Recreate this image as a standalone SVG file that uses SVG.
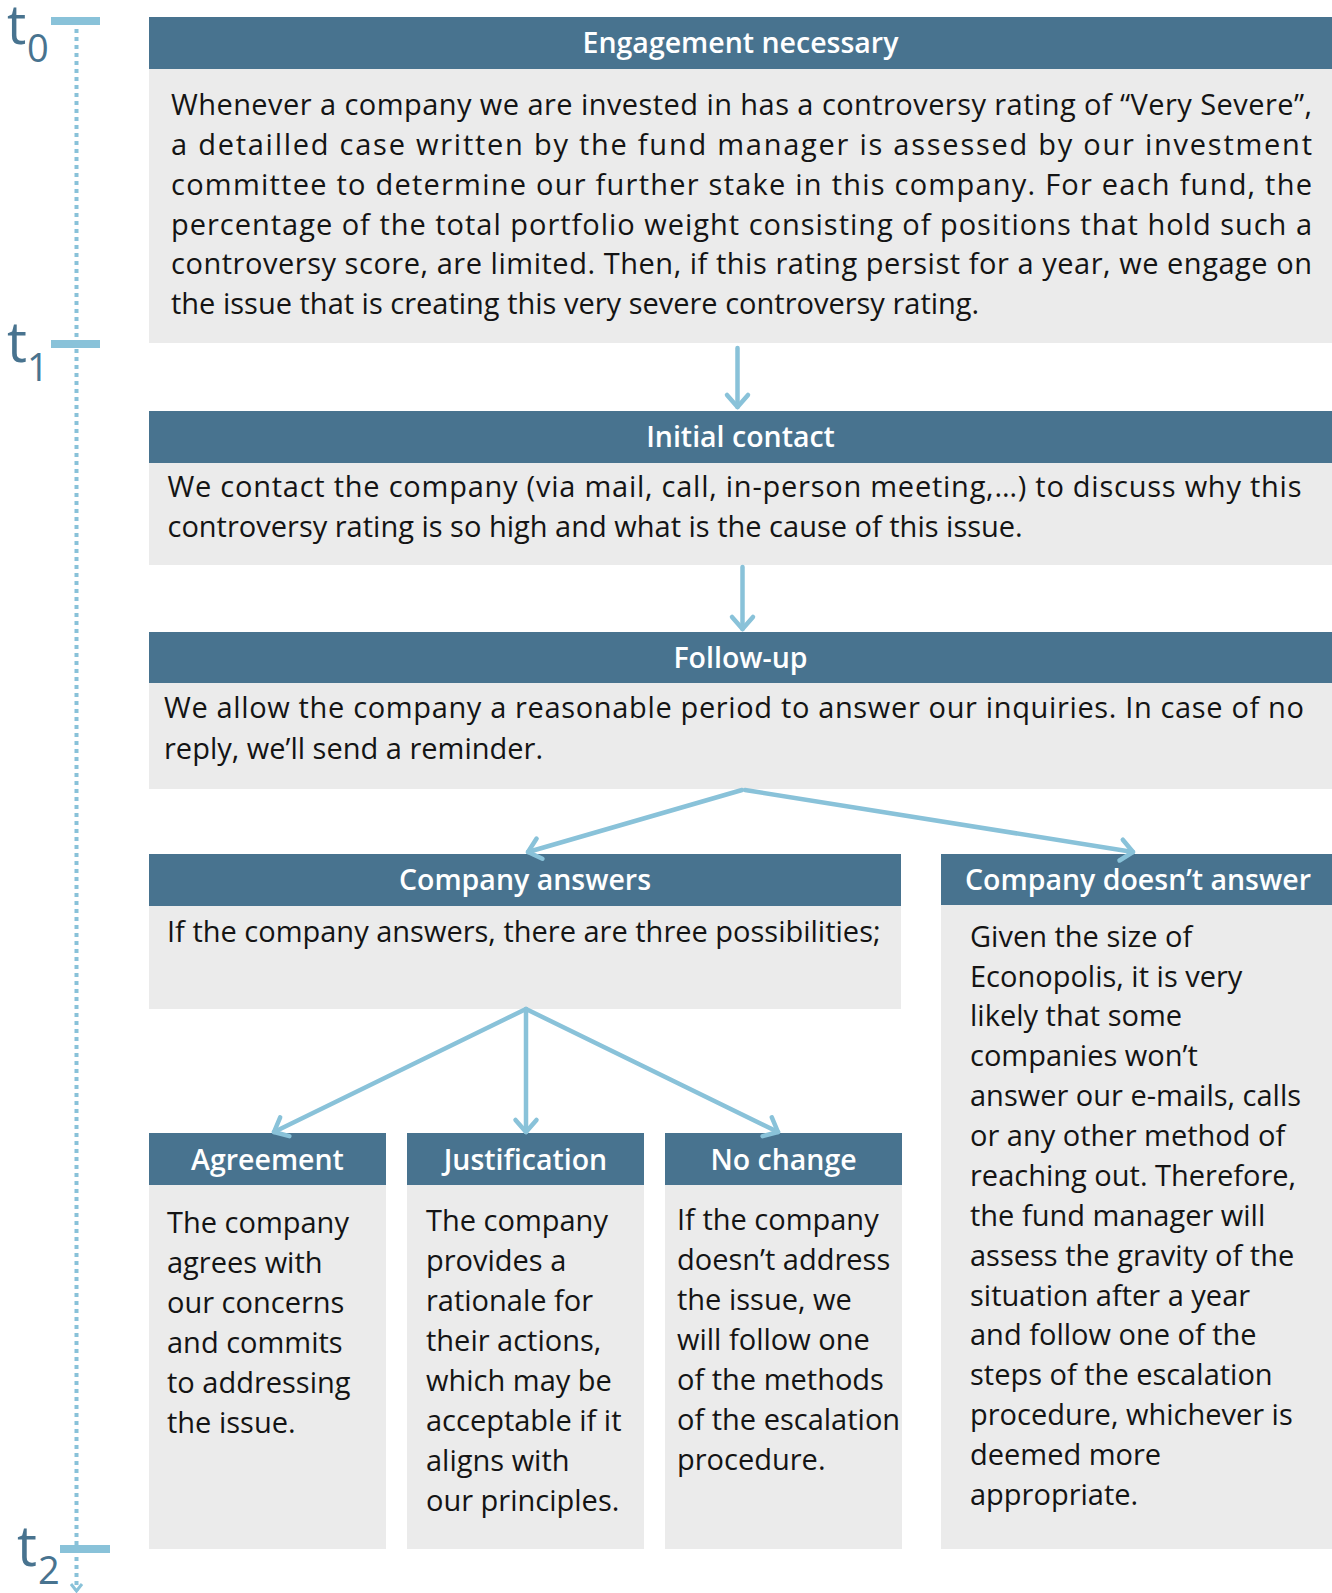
<svg xmlns="http://www.w3.org/2000/svg" width="1332" height="1593" viewBox="0 0 1332 1593">
<defs>
<style>
.hdr{fill:#48738F}
.body{fill:#EBEBEB}
.ht{font-family:"Open Sans","Liberation Sans",sans-serif;font-weight:600;font-size:28.5px;fill:#FFFFFF;text-anchor:middle}
.bt{font-family:"Open Sans","Liberation Sans",sans-serif;font-size:29px;fill:#141414}
.conn{fill:none;stroke:#89C2D9;stroke-width:4.5;stroke-linecap:round;stroke-linejoin:round}
.tick{fill:#89C2D9}
.tl{font-family:"Open Sans","Liberation Sans",sans-serif;fill:#48738F}
</style>
<marker id="arr" markerUnits="userSpaceOnUse" markerWidth="30" markerHeight="30" refX="0" refY="0" orient="auto" viewBox="-15 -15 30 30" overflow="visible">
<path d="M-12,-10.5 L0,0 L-12,10.5" fill="none" stroke="#89C2D9" stroke-width="4.5" stroke-linecap="round" stroke-linejoin="round"/>
</marker>
</defs>
<rect width="1332" height="1593" fill="#FFFFFF"/>

<g id="timeline">
<line x1="76.5" y1="21" x2="76.5" y2="1591" stroke="#89C2D9" stroke-width="4" stroke-dasharray="4 4"/>
<path d="M71,1584 L76.5,1591 L82,1584" fill="none" stroke="#89C2D9" stroke-width="3"/>
<rect class="tick" x="51" y="17" width="49" height="8"/>
<rect class="tick" x="51" y="340" width="49" height="8"/>
<rect class="tick" x="60" y="1545" width="50" height="8"/>
<text class="tl" x="7" y="44" font-size="54">t</text>
<text class="tl" x="27" y="62" font-size="38">0</text>
<text class="tl" x="7" y="362" font-size="56">t</text>
<text class="tl" x="27" y="381" font-size="38">1</text>
<text class="tl" x="17" y="1566" font-size="56">t</text>
<text class="tl" x="38" y="1584" font-size="38">2</text>
</g>

<g id="engagement">
<rect class="hdr" x="149" y="17" width="1183" height="52"/>
<rect class="body" x="149" y="69" width="1183" height="274"/>
<text class="ht" x="740.5" y="53">Engagement necessary</text>
<text class="bt" x="171" y="115" textLength="1141" lengthAdjust="spacing">Whenever a company we are invested in has a controversy rating of “Very Severe”,</text>
<text class="bt" x="171" y="155" textLength="1141" lengthAdjust="spacing">a detailled case written by the fund manager is assessed by our investment</text>
<text class="bt" x="171" y="195" textLength="1141" lengthAdjust="spacing">committee to determine our further stake in this company. For each fund, the</text>
<text class="bt" x="171" y="234.5" textLength="1141" lengthAdjust="spacing">percentage of the total portfolio weight consisting of positions that hold such a</text>
<text class="bt" x="171" y="274" textLength="1141" lengthAdjust="spacing">controversy score, are limited. Then, if this rating persist for a year, we engage on</text>
<text class="bt" x="171" y="314">the issue that is creating this very severe controversy rating.</text>
</g>

<g id="initial-contact">
<rect class="hdr" x="149" y="411" width="1183" height="52"/>
<rect class="body" x="149" y="463" width="1183" height="102"/>
<text class="ht" x="740.5" y="447">Initial contact</text>
<text class="bt" x="167.5" y="497" textLength="1134" lengthAdjust="spacing">We contact the company (via mail, call, in-person meeting,…) to discuss why this</text>
<text class="bt" x="167.5" y="537">controversy rating is so high and what is the cause of this issue.</text>
</g>

<g id="follow-up">
<rect class="hdr" x="149" y="632" width="1183" height="51"/>
<rect class="body" x="149" y="683" width="1183" height="106"/>
<text class="ht" x="740.5" y="668">Follow-up</text>
<text class="bt" x="164" y="718" textLength="1140" lengthAdjust="spacing">We allow the company a reasonable period to answer our inquiries. In case of no</text>
<text class="bt" x="164" y="759">reply, we’ll send a reminder.</text>
</g>

<g id="company-answers">
<rect class="hdr" x="149" y="854" width="752" height="52"/>
<rect class="body" x="149" y="906" width="752" height="103"/>
<text class="ht" x="525" y="890">Company answers</text>
<text class="bt" x="167" y="942">If the company answers, there are three possibilities;</text>
</g>

<g id="company-doesnt-answer">
<rect class="hdr" x="941" y="854" width="391" height="51"/>
<rect class="body" x="941" y="905" width="391" height="644"/>
<text class="ht" x="1138" y="890">Company doesn’t answer</text>
<text class="bt" x="970" y="947">Given the size of</text>
<text class="bt" x="970" y="987">Econopolis, it is very</text>
<text class="bt" x="970" y="1026">likely that some</text>
<text class="bt" x="970" y="1066">companies won’t</text>
<text class="bt" x="970" y="1106">answer our e-mails, calls</text>
<text class="bt" x="970" y="1146">or any other method of</text>
<text class="bt" x="970" y="1186">reaching out. Therefore,</text>
<text class="bt" x="970" y="1226">the fund manager will</text>
<text class="bt" x="970" y="1266">assess the gravity of the</text>
<text class="bt" x="970" y="1306">situation after a year</text>
<text class="bt" x="970" y="1345">and follow one of the</text>
<text class="bt" x="970" y="1385">steps of the escalation</text>
<text class="bt" x="970" y="1425">procedure, whichever is</text>
<text class="bt" x="970" y="1465">deemed more</text>
<text class="bt" x="970" y="1505">appropriate.</text>
</g>

<g id="agreement">
<rect class="hdr" x="149" y="1133" width="237" height="52"/>
<rect class="body" x="149" y="1185" width="237" height="364"/>
<text class="ht" x="267.5" y="1170">Agreement</text>
<text class="bt" x="167" y="1233">The company</text>
<text class="bt" x="167" y="1273">agrees with</text>
<text class="bt" x="167" y="1313">our concerns</text>
<text class="bt" x="167" y="1353">and commits</text>
<text class="bt" x="167" y="1393">to addressing</text>
<text class="bt" x="167" y="1433">the issue.</text>
</g>

<g id="justification">
<rect class="hdr" x="407" y="1133" width="237" height="52"/>
<rect class="body" x="407" y="1185" width="237" height="364"/>
<text class="ht" x="525.5" y="1170">Justification</text>
<text class="bt" x="426" y="1231">The company</text>
<text class="bt" x="426" y="1271">provides a</text>
<text class="bt" x="426" y="1311">rationale for</text>
<text class="bt" x="426" y="1351">their actions,</text>
<text class="bt" x="426" y="1391">which may be</text>
<text class="bt" x="426" y="1431">acceptable if it</text>
<text class="bt" x="426" y="1471">aligns with</text>
<text class="bt" x="426" y="1511">our principles.</text>
</g>

<g id="no-change">
<rect class="hdr" x="665" y="1133" width="237" height="52"/>
<rect class="body" x="665" y="1185" width="237" height="364"/>
<text class="ht" x="783.5" y="1170">No change</text>
<text class="bt" x="677" y="1230">If the company</text>
<text class="bt" x="677" y="1270">doesn’t address</text>
<text class="bt" x="677" y="1310">the issue, we</text>
<text class="bt" x="677" y="1350">will follow one</text>
<text class="bt" x="677" y="1390">of the methods</text>
<text class="bt" x="677" y="1430">of the escalation</text>
<text class="bt" x="677" y="1470">procedure.</text>
</g>

<g id="connectors">
<line class="conn" x1="737.5" y1="348" x2="737.5" y2="407" marker-end="url(#arr)"/>
<line class="conn" x1="742.5" y1="567" x2="742.5" y2="629" marker-end="url(#arr)"/>
<line class="conn" x1="742" y1="790" x2="528" y2="852" marker-end="url(#arr)"/>
<line class="conn" x1="745" y1="790" x2="1133" y2="852" marker-end="url(#arr)"/>
<line class="conn" x1="526" y1="1009" x2="274" y2="1132" marker-end="url(#arr)"/>
<line class="conn" x1="526" y1="1009" x2="526" y2="1132" marker-end="url(#arr)"/>
<line class="conn" x1="526" y1="1009" x2="778" y2="1132" marker-end="url(#arr)"/>
</g>
</svg>
